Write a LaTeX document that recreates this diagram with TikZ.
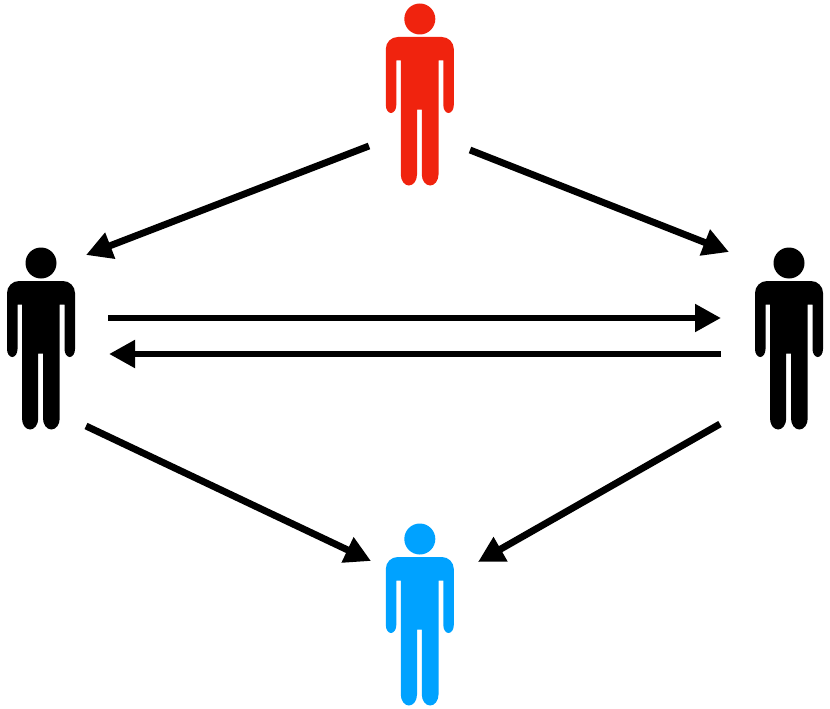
\documentclass[tikz,border=0pt]{standalone}
\usetikzlibrary{arrows.meta}
\definecolor{pred}{HTML}{F0230E}
\definecolor{pblue}{HTML}{00A2FF}
\tikzset{
  x=1pt,y=-1pt,
  flow/.style={line width=6.9pt,-{Triangle[length=26pt,width=26.5pt]}},
  person/.pic={
    \fill[pic actions] (0,19) circle[radius=15.5pt];
    \fill[pic actions]
      (-34,49) arc[start angle=180,end angle=90,radius=12pt] -- (22,37)
      arc[start angle=90,end angle=0,radius=12pt]
      -- (34,105) arc[start angle=0,end angle=-180,x radius=5.25pt,y radius=8pt]
      -- (23.5,60.5) -- (18.7,60.5) -- (18.7,174.5)
      arc[start angle=0,end angle=-180,x radius=8.35pt,y radius=11pt]
      -- (2,109.5) -- (-2.8,109.5) -- (-2.8,174.5)
      arc[start angle=0,end angle=-180,x radius=8.1pt,y radius=11pt]
      -- (-19,60.5) -- (-23.5,60.5) -- (-23.5,105)
      arc[start angle=0,end angle=-180,x radius=5.25pt,y radius=8pt] -- cycle;
  }
}
\begin{document}
\begin{tikzpicture}
\useasboundingbox (0,0) rectangle (830,709);
\pic[fill=pred] at (419.8,0) {person};
\pic[fill=black] at (41,244) {person};
\pic[fill=black] at (789,244) {person};
\pic[fill=pblue] at (419.8,520) {person};
\coordinate (redL) at (369,146);
\coordinate (leftT) at (86,255);
\coordinate (redR) at (470,150);
\coordinate (rightT) at (729,252);
\coordinate (leftA) at (108,318);
\coordinate (rightA) at (721,318);
\coordinate (rightB) at (721,354);
\coordinate (leftB) at (109,354);
\coordinate (leftD) at (86,426);
\coordinate (blueL) at (371,561);
\coordinate (rightD) at (720,424);
\coordinate (blueR) at (478,562);
\draw[flow] (redL) -- (leftT);
\draw[flow] (redR) -- (rightT);
\draw[flow] (leftA) -- (rightA);
\draw[flow] (rightB) -- (leftB);
\draw[flow] (leftD) -- (blueL);
\draw[flow] (rightD) -- (blueR);
\end{tikzpicture}
\end{document}
